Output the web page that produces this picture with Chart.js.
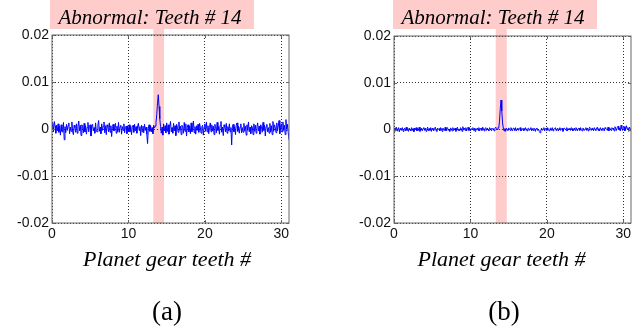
<!DOCTYPE html>
<html><head><meta charset="utf-8">
<script src="https://cdn.jsdelivr.net/npm/chart.js@4.4.1/dist/chart.umd.min.js"></script>
<style>
html,body{margin:0;padding:0;background:#fff;}
#wrap{position:relative;width:644px;height:329px;overflow:hidden;background:#fff;}
canvas{position:absolute;top:0;}
</style></head><body>
<div id="wrap">
<canvas id="ca" width="322" height="329" style="left:0px"></canvas>
<canvas id="cb" width="322" height="329" style="left:322px"></canvas>
</div>
<script>
// ---- data ----
const unit = 1e-4;          // residual values below are in units of 0.0001
const teethStep = 0.1;      // sample spacing along the planet-gear-teeth axis
const xRange = [0, 31];
const yRange = [-0.02, 0.02];
const xTicks = [0, 10, 20, 30];
const xTickLabels = ['0', '10', '20', '30'];
const yTicks = [-0.02, -0.01, 0, 0.01, 0.02];
const yTickLabels = ['-0.02', '-0.01', '0', '0.01', '0.02'];
const panelTitles = ['Abnormal: Teeth # 14', 'Abnormal: Teeth # 14'];
const xAxisTitle = 'Planet gear teeth #';
const panelLabels = ['(a)', '(b)'];
const bandA = [13.25, 14.65];
const bandB = [13.3, 14.75];

const residualA = [
  3, 12, -6, 16, 7, -9, 8, -4, 11, -7, 6, -13, 9, -5, -7, 14, -23, 5, -8, 10,
  -3, 7, 13, -10, 4, -5, 15, -6, -12, 8, 3, -7, 11, -9, 6, 17, -4, 8, -14, 9,
  5, -8, 12, -6, 7, -11, 3, 14, -6, 6, 9, -15, 6, 10, -4, 3, -9, 13, -5, -6,
  8, 18, -5, 4, -10, 11, -3, 6, 15, -8, 7, -12, 9, 4, -6, 13, -7, 7, -16, 5,
  10, -4, 3, 12, -9, 6, -6, 14, -7, 5, 8, -11, 5, -3, 11, -8, 4, 6, -10, 7,
  -5, 9, -6, 6, -12, 3, 8, -7, 10, -4, 5, -9, 7, 12, -3, 5, -14, 8, -6, 6,
  -8, 10, -3, 4, -11, -31, 2, 9, -5, 7,
  -6, 3, -10, 8, 2, 6, 14, 30, 55, 73, 48, 22, 5, -9, 4, -13, 11, -4, 7, -8,
  13, -5, 9, -11, 5, 16, -6, 3, -9, 12, -4, 7, -14, 10, 4, -7, 15, -3, 6, -12,
  8, 3, -9, 14, -5, 11, -15, 4, 9, -6, 6, -10, 13, -6, 3, 17, -8, 5, -11, 7,
  -3, 10, -7, 12, 4, -9, 5, 8, -13, 4, 11, -5, 15, -6, 7, -10, 3, 13, -6, 9,
  -4, 6, -12, 10, 5, -8, 14, -3, 5, -11, 8, 16, -7, 4, -14, 9, 4, -6, 12, -9,
  5, -4, 11, -6, 3, -34, 7, 10, -6, 5, -12, 8, 13, -5, 6, -9, 4, 11, -8, 3,
  -7, 12, -4, 6, -13, 9, -3, 15, -6, 4, -10, 7, 4, -12, 11, -5, 8, -9, 5, 13,
  -4, 6, -11, 9, 5, -7, 14, -3, 8, -15, 5, 10, -6, 3, -9, 12, -6, 7, -12, 16,
  -5, 9, 4, -8, 13, -4, 6, 18, -10, 4, 11, -6, 15, -3, 8, -12, 20, -4, 10, -7,
  -23
];

const residualB = [
  3, -4, 2, 5, -3, 1, 4, -5, 2, 3, -2, 4, -4, 0, 3, -3, 5, -2, 2, -4,
  3, 0, -3, 4, -2, 2, -5, 3, 0, 4, -3, 2, -2, 5, -4, 1, 3, -3, 2, 4,
  -2, 3, -4, 1, 5, -3, 2, -2, 4, -4, 3, 0, -3, 2, 5, -2, -4, 3, 0, 2,
  -3, 4, 2, -4, 3, 0, -2, 5, -3, 2, 4, -2, 1, -4, 3, 2, -3, 4, -2, 1,
  3, -4, 2, 5, -2, 1, -3, 4, 2, -4, 6, 0, 3, -2, 4, -3, 2, 5, -2, 3,
  -3, 1, 2, 4, -2, 3, -4, 2, 0, 3, -2, 4, -3, 2, 3, -2, 5, 1, -3, 2,
  4, -2, 3, 0, -3, 4, 2, -2, 3, 1,
  2, -3, 3, 5, 2, 0, 4, 3, 18, 44, 63, 40, 14, 3, -3, 2, -4, 3, 0, -2,
  3, 2, -2, 4, 0, -3, 3, 2, -2, 4, -3, 1, 3, -2, 2, 4, -3, 0, 2, -2,
  3, -2, 4, 0, -3, 2, 3, -2, 1, 4, -3, 2, -2, 3, 0, -4, 2, 3, -2, 1,
  -4, -7, -2, 3, -2, 1, 4, -3, 2, 3, -2, 4, 0, -3, 2, 3, -2, 4, -3, 1,
  2, 4, -2, 0, 3, -3, 2, 4, -2, 1, 3, -4, 2, 3, 0, -2, 4, -3, 2, 0,
  3, -2, 4, 2, -3, 0, 3, -2, 4, 1, -3, 2, 3, -2, 4, 0, -3, 3, 2, -2,
  1, 4, -2, 3, -3, 2, 5, 0, -2, 3, 2, -3, 4, 0, -2, 3, 5, -2, 2, -3,
  4, 0, -2, 3, 2, -3, 4, 2, 0, -2, 5, -3, 3, 2, -2, 4, 1, 3, -3, 6,
  2, -2, 4, 7, 0, 3, -3, 9, 2, -2, 4, 6, -3, 3, 8, 0, 4, -4, 5, 2,
  -4
];

// ---- helpers ----
const toPoints = arr => arr.map((v, i) => ({ x: +(i * teethStep).toFixed(2), y: v * unit }));
const fmt = (vals, labels) => v => {
  const k = vals.findIndex(t => Math.abs(t - v) < 1e-9);
  return k >= 0 ? labels[k] : '';
};

function decor(p) {
  return {
    id: 'decor',
    beforeDraw(chart) {
      const { ctx, chartArea: a, scales: { x } } = chart;
      ctx.save();
      ctx.fillStyle = '#ffcccc';
      const b0 = x.getPixelForValue(p.band[0]);
      const b1 = x.getPixelForValue(p.band[1]);
      ctx.fillRect(b0, 0, b1 - b0, a.bottom);
      ctx.fillRect(a.left + p.boxDx, 0, p.boxW, 29);
      ctx.restore();
    },
    afterDraw(chart) {
      const { ctx, chartArea: a, scales: { x, y } } = chart;
      ctx.save();
      ctx.strokeStyle = '#666';
      ctx.lineWidth = 1;
      ctx.strokeRect(Math.round(a.left), Math.round(a.top), Math.round(a.right) - Math.round(a.left), Math.round(a.bottom) - Math.round(a.top));
      ctx.beginPath();
      xTicks.forEach(t => {
        const px = Math.round(x.getPixelForValue(t)) + 0.5;
        ctx.moveTo(px, a.bottom); ctx.lineTo(px, a.bottom - 3);
        ctx.moveTo(px, a.top); ctx.lineTo(px, a.top + 3);
      });
      yTicks.forEach(t => {
        const py = Math.round(y.getPixelForValue(t)) + 0.5;
        ctx.moveTo(a.left, py); ctx.lineTo(a.left + 3, py);
        ctx.moveTo(a.right, py); ctx.lineTo(a.right - 3, py);
      });
      ctx.stroke();
      ctx.fillStyle = '#000';
      ctx.textAlign = 'center';
      ctx.textBaseline = 'alphabetic';
      ctx.font = 'italic 21px "Liberation Serif", "Times New Roman", serif';
      ctx.fillText(p.title, a.left + p.boxDx + p.boxW / 2 - 2, 24);
      const cx = (a.left + a.right) / 2;
      ctx.font = 'italic 22px "Liberation Serif", "Times New Roman", serif';
      ctx.fillText(xAxisTitle, cx + p.axDx, 266);
      ctx.font = '27px "Liberation Serif", "Times New Roman", serif';
      ctx.fillText(p.label, cx + p.labDx, 320);
      ctx.restore();
    }
  };
}

function makeChart(id, values, p) {
  return new Chart(document.getElementById(id), {
    type: 'line',
    data: {
      datasets: [{
        data: toPoints(values),
        borderColor: '#0000ff',
        borderWidth: 1,
        pointRadius: 0,
        tension: 0,
        fill: false
      }]
    },
    options: {
      responsive: false,
      animation: false,
      devicePixelRatio: 1,
      parsing: false,
      layout: { padding: p.padding },
      plugins: { legend: { display: false }, tooltip: { enabled: false }, title: { display: false } },
      scales: {
        x: {
          type: 'linear', min: xRange[0], max: xRange[1],
          afterBuildTicks: s => { s.ticks = xTicks.map(v => ({ value: v })); },
          afterFit: s => { s.height = 20; },
          ticks: { callback: fmt(xTicks, xTickLabels), color: '#111', padding: 3, maxRotation: 0,
                   font: { family: '"Liberation Sans", Arial, sans-serif', size: 14 } },
          grid: { color: '#333', lineWidth: 1, drawTicks: false },
          border: { display: false, dash: [1, 2] }
        },
        y: {
          type: 'linear', min: yRange[0], max: yRange[1],
          afterBuildTicks: s => { s.ticks = yTicks.map(v => ({ value: v })); },
          afterFit: s => { s.width = p.yWidth; },
          ticks: { callback: fmt(yTicks, yTickLabels), color: '#111', padding: 3,
                   font: { family: '"Liberation Sans", Arial, sans-serif', size: 14 } },
          grid: { color: '#333', lineWidth: 1, drawTicks: false },
          border: { display: false, dash: [1, 2] }
        }
      }
    },
    plugins: [decor(p)]
  });
}

makeChart('ca', residualA, {
  band: bandA, title: panelTitles[0], label: panelLabels[0],
  boxDx: -2, boxW: 204, axDx: -3.5, labDx: -3.5, yWidth: 52,
  padding: { left: 0, right: 33, top: 35, bottom: 86 }
});
makeChart('cb', residualB, {
  band: bandB, title: panelTitles[1], label: panelLabels[1],
  boxDx: -1, boxW: 204, axDx: -11, labDx: -8.5, yWidth: 72,
  padding: { left: 0, right: 13, top: 36, bottom: 86 }
});
</script>
</body></html>
